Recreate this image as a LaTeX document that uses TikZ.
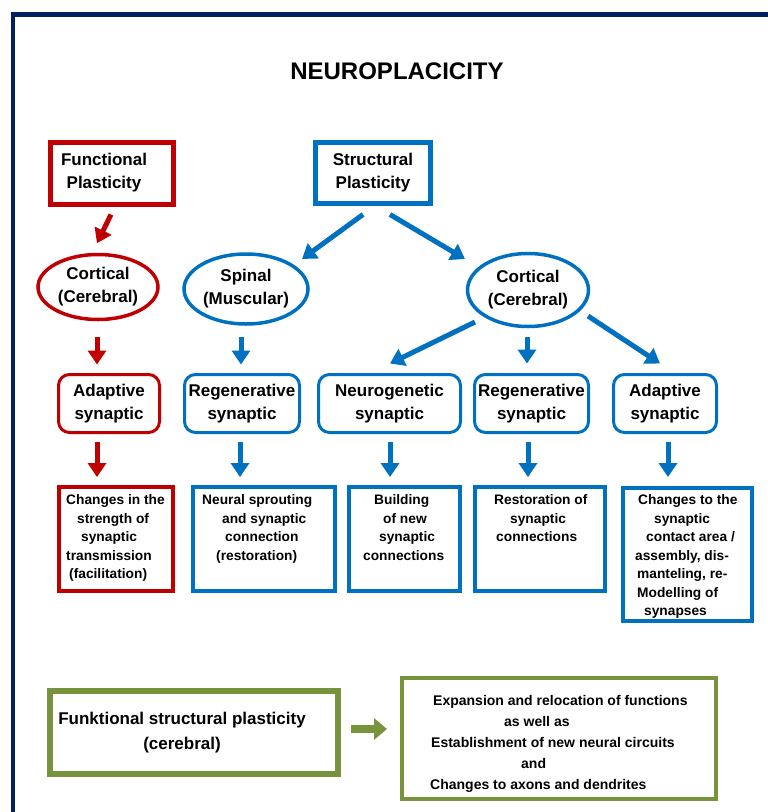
\documentclass[tikz,border=0pt]{standalone}
\usepackage{fontspec}
\setmainfont{Liberation Sans}
\usetikzlibrary{shapes.geometric,arrows.meta,calc}
\definecolor{cred}{RGB}{192,0,0}
\definecolor{cblue}{RGB}{0,112,192}
\definecolor{cgreen}{RGB}{119,147,60}
\definecolor{cnavy}{RGB}{0,32,96}
\tikzset{
  lbl/.style={font=\fontsize{17}{23}\selectfont\bfseries, align=center, inner sep=0pt},
  smalltxt/.style={font=\fontsize{13.75}{18.5}\selectfont\bfseries, align=left, inner sep=0pt, anchor=north west},
  topbox/.style={draw, line width=5pt, inner sep=0pt},
  ellbox/.style={ellipse, draw, line width=3.5pt, inner sep=0pt, font=\fontsize{17}{23}\selectfont\bfseries, align=center},
  rbox/.style={draw, rounded corners=11pt, line width=3pt, minimum height=58pt, inner sep=0pt, font=\fontsize{17}{23}\selectfont\bfseries, align=center},
  sbox/.style={draw, line width=4pt, inner sep=0pt},
  arr/.style={line width=5pt, -{Triangle[length=14pt,width=18pt]}},
  garr/.style={line width=7.5pt, -{Triangle[length=13pt,width=21pt]}},
}
\begin{document}
\begin{tikzpicture}[x=1pt,y=-1pt]
\useasboundingbox (0,0) rectangle (768,812);
% frame
\draw[cnavy, line width=4.5pt] (768,14.5) -- (13,14.5) -- (13,812);
% title
\node[font=\fontsize{24}{28}\selectfont\bfseries, inner sep=0pt] (title) at (397,71) {NEUROPLACICITY};
% top boxes
\node[topbox, cred, minimum width=123pt, minimum height=62pt] (func) at (112,173.5) {};
\node[lbl] (functxt) at (104,173) {Functional\\Plasticity};
\node[topbox, cblue, minimum width=115pt, minimum height=61pt, lbl, draw, line width=5pt, text=black] (struct) at (373,173) {Structural\\Plasticity};
% ellipses
\node[ellbox, cred, minimum width=120pt, minimum height=65pt, text=black] (cortL) at (98,287) {Cortical\\(Cerebral)};
\node[ellbox, cblue, minimum width=124pt, minimum height=70pt, text=black] (spinal) at (246,289) {Spinal\\(Muscular)};
\node[ellbox, cblue, minimum width=121pt, minimum height=73pt, text=black] (cortR) at (528,290) {Cortical\\(Cerebral)};
% rounded boxes
\node[rbox, cred, minimum width=101pt, text=black] (adaptL) at (109,403.5) {Adaptive\\synaptic};
\node[rbox, cblue, minimum width=115pt, text=black] (regenL) at (242,403.5) {Regenerative\\synaptic};
\node[rbox, cblue, minimum width=142pt, text=black] (neuro) at (389.5,403.5) {Neurogenetic\\synaptic};
\node[rbox, cblue, minimum width=114pt, text=black] (regenR) at (531.5,403.5) {Regenerative\\synaptic};
\node[rbox, cblue, minimum width=103pt, text=black] (adaptR) at (665,403.5) {Adaptive\\synaptic};
% bottom boxes
\node[sbox, cred, minimum width=114pt, minimum height=104pt] (chgL) at (116,539) {};
\node[sbox, cblue, minimum width=142pt, minimum height=104pt] (sprout) at (264,539) {};
\node[sbox, cblue, minimum width=111pt, minimum height=104pt] (build) at (404.5,539) {};
\node[sbox, cblue, minimum width=130pt, minimum height=104pt] (restor) at (540,539) {};
\node[sbox, cblue, minimum width=129pt, minimum height=133pt] (chgR) at (687.5,554.5) {};
\node[smalltxt] (chgLtxt) at (66,494.5) {Changes in the\\\hspace*{11pt}strength of\\\hspace*{15pt}synaptic\\transmission\\\hspace*{3pt}(facilitation)};
\node[smalltxt] (sprouttxt) at (202,494.5) {Neural sprouting\\\hspace*{20pt}and synaptic\\\hspace*{23pt}connection\\\hspace*{14pt}(restoration)};
\node[smalltxt] (buildtxt) at (363,494.5) {\hspace*{11pt}Building\\\hspace*{20pt}of new\\\hspace*{16pt}synaptic\\connections};
\node[smalltxt] (restortxt) at (494,494.5) {Restoration of\\\hspace*{16pt}synaptic\\\hspace*{2pt}connections};
\node[smalltxt] (chgRtxt) at (635,494.5) {\hspace*{3pt}Changes to the\\\hspace*{19pt}synaptic\\\hspace*{11pt}contact area /\\assembly, dis-\\\hspace*{2pt}manteling, re-\\\hspace*{2pt}Modelling of\\\hspace*{9pt}synapses};
% green boxes
\node[draw, cgreen, line width=6pt, minimum width=288pt, minimum height=83pt, inner sep=0pt] (greenL) at (194,732.5) {};
\node[font=\fontsize{17}{25}\selectfont\bfseries, align=center, inner sep=0pt] (greenLtxt) at (182,733) {Funktional structural plasticity\\(cerebral)};
\node[draw, cgreen, line width=4pt, minimum width=314pt, minimum height=121pt, inner sep=0pt] (greenR) at (559,738.5) {};
\node[font=\fontsize{14}{21}\selectfont\bfseries, align=left, inner sep=0pt, anchor=north west] (greenRtxt) at (430,695) {\hspace*{3pt}Expansion and relocation of functions\\\hspace*{74pt}as well as\\\hspace*{1pt}Establishment of new neural circuits\\\hspace*{91pt}and\\Changes to axons and dendrites};
% arrows red
\draw[arr, cred] ($(func.south)+(-1,7.5)$) -- ($(cortL.north)+(-1,-9.5)$);
\draw[arr, cred] ($(cortL.south)+(-1,15.5)$) -- ($(adaptL.north)+(-12,-8.5)$);
\draw[arr, cred] ($(adaptL.south)+(-12,7.5)$) -- ($(chgL.north)+(-19,-8)$);
% arrows blue
\draw[arr, cblue] ($(struct.south)+(-10,8.5)$) -- ($(spinal.center)+(56,-30)$);
\draw[arr, cblue] ($(struct.south)+(17,8.5)$) -- ($(cortR.center)+(-63,-31)$);
\draw[arr, cblue] ($(spinal.south)+(-5,11)$) -- ($(regenL.north)+(-1,-8.5)$);
\draw[arr, cblue] ($(cortR.center)+(-53,32)$) -- ($(neuro.north)+(0.5,-9.5)$);
\draw[arr, cblue] ($(cortR.south)+(-1,8.5)$) -- ($(regenR.north)+(-4.5,-9.5)$);
\draw[arr, cblue] ($(cortR.center)+(60,26)$) -- ($(adaptR.north)+(-5,-9.5)$);
\draw[arr, cblue] ($(regenL.south)+(-2,7.5)$) -- ($(sprout.north)+(-24,-8)$);
\draw[arr, cblue] ($(neuro.south)+(0.5,7.5)$) -- ($(build.north)+(-14.5,-8)$);
\draw[arr, cblue] ($(regenR.south)+(-3.5,7.5)$) -- ($(restor.north)+(-12,-8)$);
\draw[arr, cblue] ($(adaptR.south)+(3,7.5)$) -- ($(chgR.north)+(-19.5,-9)$);
% arrow green
\draw[garr, cgreen] ($(greenL.east)+(10,-3.5)$) -- ($(greenR.west)+(-13,-9.5)$);
\end{tikzpicture}
\end{document}
